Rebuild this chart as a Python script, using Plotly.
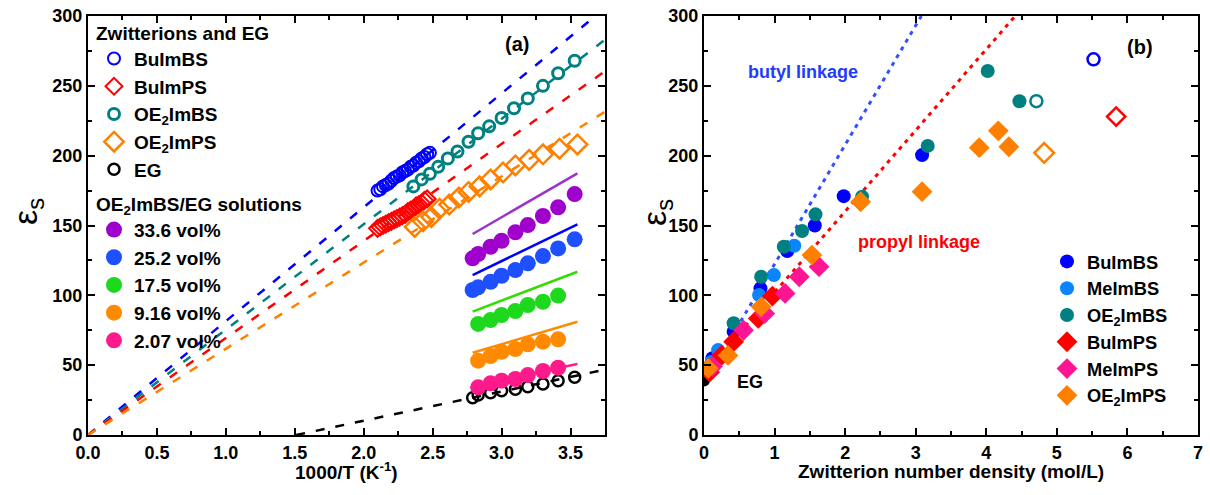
import plotly.graph_objects as go

# ---------------- Panel (a) data ----------------
buimbs_x = [2.10, 2.12, 2.14, 2.16, 2.18, 2.20, 2.22, 2.24, 2.26, 2.28, 2.30, 2.32, 2.34, 2.36, 2.38, 2.40, 2.42, 2.44, 2.46, 2.48]
buimbs_y = [175, 176, 178, 179, 180, 182, 184, 185, 186, 188, 189, 190, 192, 193, 195, 196, 198, 199, 201, 202]
buimps_x = [2.10, 2.12, 2.14, 2.16, 2.18, 2.20, 2.22, 2.24, 2.26, 2.28, 2.30, 2.32, 2.34, 2.36, 2.38, 2.40, 2.42, 2.44, 2.46]
buimps_y = [148, 149, 150, 151, 152, 153, 154, 155, 156, 157, 158, 160, 161, 162, 164, 165, 166, 168, 169]
oe2imbs_x = [2.36, 2.42, 2.48, 2.54, 2.61, 2.68, 2.76, 2.83, 2.91, 3.00, 3.09, 3.19, 3.30, 3.41, 3.53]
oe2imbs_y = [178, 183, 187, 192, 198, 203, 210, 216, 221, 227, 234, 241, 250, 259, 268]
oe2imps_x = [2.37, 2.43, 2.49, 2.55, 2.62, 2.69, 2.76, 2.84, 2.92, 3.01, 3.10, 3.20, 3.30, 3.42, 3.55]
oe2imps_y = [149, 153, 156, 162, 165, 170, 174, 178, 183, 188, 193, 197, 201, 205, 208]
eg_x = [2.79, 2.83, 2.92, 3.00, 3.10, 3.19, 3.30, 3.41, 3.53]
eg_y = [26.7, 28.6, 30.3, 31.7, 32.7, 34.6, 36.5, 38.9, 41.3]

sol_x9 = [2.79, 2.83, 2.92, 3.00, 3.10, 3.19, 3.30, 3.41, 3.53]
sol_x7 = [2.83, 2.92, 3.00, 3.10, 3.19, 3.30, 3.41]
v336_y = [126.5, 129.6, 134.8, 139.1, 145.1, 150.3, 156.8, 163.0, 172.5]
v252_y = [103.8, 105.7, 109.7, 114.0, 118.1, 122.9, 128.1, 133.6, 140.1]
v175_y = [79.5, 82.3, 85.9, 88.8, 93.1, 95.4, 99.8]
v916_y = [53.2, 56.5, 59.6, 61.6, 64.9, 66.8, 68.5]
v207_y = [34.1, 37.0, 38.9, 40.1, 42.9, 45.8, 48.2]

# solid model lines (start/end)
model_x = [2.79, 3.55]
m336_y = [143.9, 187.3]
m252_y = [114.5, 150.8]
m175_y = [88.3, 116.9]
m916_y = [58.9, 81.1]
m207_y = [35.5, 50.8]

# dashed fit lines (start/end)
fit_buimbs_x, fit_buimbs_y = [0, 3.68], [0, 300]
fit_oe2imbs_x, fit_oe2imbs_y = [0, 3.75], [0, 283]
fit_buimps_x, fit_buimps_y = [0, 3.75], [0, 260.5]
fit_oe2imps_x, fit_oe2imps_y = [0, 3.75], [0, 231.5]
fit_eg_x, fit_eg_y = [1.51, 3.75], [0, 46.8]

# ---------------- Panel (b) data ----------------
b_buimbs_x = [0.12, 0.42, 0.80, 1.18, 1.57, 1.98, 3.09]
b_buimbs_y = [55, 74, 105, 131.7, 150, 171, 200.4]
b_meimbs_x = [0.11, 0.20, 0.78, 0.99, 1.28]
b_meimbs_y = [52.5, 60.8, 100.2, 114.5, 135.5]
b_oe2imbs_x = [0.05, 0.42, 0.81, 1.13, 1.39, 1.58, 2.24, 3.17, 4.02, 4.47]
b_oe2imbs_y = [48, 80, 113.3, 134.8, 146, 158, 170.6, 207, 260.6, 239]
b_buimps_x = [0.08, 0.25, 0.42, 0.77, 0.97]
b_buimps_y = [45, 57, 66.8, 83.5, 99.5]
b_meimps_x = [0.12, 0.56, 0.86, 1.15, 1.35, 1.63]
b_meimps_y = [49, 75, 87, 101.4, 113.3, 120.5]
b_oe2imps_x = [0.06, 0.34, 0.81, 1.53, 2.22, 3.09, 3.90, 4.17, 4.32]
b_oe2imps_y = [47.7, 57, 91.8, 128.8, 167, 174.2, 205.7, 217.8, 206.4]
b_eg_x, b_eg_y = [0], [39]
# neat zwitterions (open symbols)
b_open_buimbs = ([5.52], [269])
b_open_oe2imbs = ([4.71], [239])
b_open_buimps = ([5.84], [228])
b_open_oe2imps = ([4.82], [202])
# dotted guide lines
butyl_x, butyl_y = [0, 3.08], [37, 300]
propyl_x, propyl_y = [0, 4.41], [44, 300]

FONT = "Liberation Sans, Arial, sans-serif"
BLUE, RED, TEAL, ORANGE = "#0000FF", "#FF0000", "#008080", "#FF8000"
PURPLE, BLUE2, GREEN, ORANGE2, PINK = "#9F00CC", "#1E50FF", "#1ED81E", "#FF8A00", "#FF1A8C"
LBLUE = "#0A84FF"

fig = go.Figure()

def dline(x, y, color, dash, width=2.5, xa="x", ya="y"):
    fig.add_trace(go.Scatter(x=x, y=y, mode="lines", xaxis=xa, yaxis=ya,
                             line=dict(color=color, width=width, dash=dash),
                             showlegend=False, hoverinfo="skip"))

# dashed fits (panel a)
DASH = "9px,11px"
dline(fit_buimbs_x, fit_buimbs_y, BLUE, DASH)
dline(fit_oe2imbs_x, fit_oe2imbs_y, TEAL, DASH)
dline(fit_buimps_x, fit_buimps_y, RED, DASH)
dline(fit_oe2imps_x, fit_oe2imps_y, ORANGE, DASH)
dline(fit_eg_x, fit_eg_y, "black", DASH)
# solid model lines
for yy, c in [(m336_y, "#9933CC"), (m252_y, BLUE), (m175_y, "#33DD00"), (m916_y, ORANGE2), (m207_y, PINK)]:
    dline(model_x, yy, c, "solid", width=2.5)

def pts(x, y, name, symbol, color, size, lw=0, legend="legend", show=True, xa="x", ya="y"):
    fig.add_trace(go.Scatter(x=x, y=y, mode="markers", name=name, xaxis=xa, yaxis=ya,
                             marker=dict(symbol=symbol, color=color, size=size,
                                         line=dict(width=lw, color=color)),
                             legend=legend, showlegend=show))

pts(buimbs_x, buimbs_y, "BuImBS", "circle-open", BLUE, 12, 2)
pts(buimps_x, buimps_y, "BuImPS", "diamond-open", RED, 13, 2)
pts(oe2imbs_x, oe2imbs_y, "OE<sub>2</sub>ImBS", "circle-open", TEAL, 11, 3)
pts(oe2imps_x, oe2imps_y, "OE<sub>2</sub>ImPS", "diamond-open", ORANGE, 15, 2.5)
pts(eg_x, eg_y, "EG", "circle-open", "black", 11, 2.5)

pts(sol_x9, v336_y, "33.6 vol%", "circle", PURPLE, 16, legend="legend2")
pts(sol_x9, v252_y, "25.2 vol%", "circle", BLUE2, 16, legend="legend2")
pts(sol_x7, v175_y, "17.5 vol%", "circle", GREEN, 16, legend="legend2")
pts(sol_x7, v916_y, "9.16 vol%", "circle", ORANGE2, 16, legend="legend2")
pts(sol_x7, v207_y, "2.07 vol%", "circle", PINK, 16, legend="legend2")

# panel (b)
DOT = "4px,5px"
dline(butyl_x, butyl_y, "#3050FF", DOT, width=3, xa="x2", ya="y2")
dline(propyl_x, propyl_y, RED, DOT, width=3, xa="x2", ya="y2")

pts(b_eg_x, b_eg_y, "EG", "circle", "black", 12, legend="legend3", show=False, xa="x2", ya="y2")
pts(b_buimbs_x, b_buimbs_y, "BuImBS", "circle", BLUE, 14, legend="legend3", xa="x2", ya="y2")
pts(b_meimbs_x, b_meimbs_y, "MeImBS", "circle", LBLUE, 14, legend="legend3", xa="x2", ya="y2")
pts(b_oe2imbs_x, b_oe2imbs_y, "OE<sub>2</sub>ImBS", "circle", TEAL, 14, legend="legend3", xa="x2", ya="y2")
pts(b_buimps_x, b_buimps_y, "BuImPS", "diamond", RED, 16, legend="legend3", xa="x2", ya="y2")
pts(b_meimps_x, b_meimps_y, "MeImPS", "diamond", "#FF1493", 16, legend="legend3", xa="x2", ya="y2")
pts(b_oe2imps_x, b_oe2imps_y, "OE<sub>2</sub>ImPS", "diamond", ORANGE, 16, legend="legend3", xa="x2", ya="y2")

pts(*b_open_buimbs, "BuImBS neat", "circle-open", BLUE, 12, 2.5, legend="legend3", show=False, xa="x2", ya="y2")
pts(*b_open_oe2imbs, "OE2ImBS neat", "circle-open", TEAL, 12, 2.5, legend="legend3", show=False, xa="x2", ya="y2")
pts(*b_open_buimps, "BuImPS neat", "diamond-open", RED, 14, 2.5, legend="legend3", show=False, xa="x2", ya="y2")
pts(*b_open_oe2imps, "OE2ImPS neat", "diamond-open", ORANGE, 15, 2.5, legend="legend3", show=False, xa="x2", ya="y2")

W, H = 1210, 495
def px(v): return v / W
def py(v): return 1 - v / H

tickfont = dict(family=FONT, size=18, color="black", weight="bold")
axis_common = dict(showline=True, linecolor="black", linewidth=2, mirror="allticks",
                   ticks="inside", ticklen=7, tickwidth=2, tickcolor="black",
                   showgrid=False, zeroline=False, tickfont=tickfont, automargin=False,
                   minor=dict(ticks="inside", ticklen=4, tickwidth=1.5, tickcolor="black", showgrid=False))

leg_font = dict(family=FONT, size=19, color="black", weight="bold")
leg3_font = dict(family=FONT, size=18.3, color="black", weight="bold")
fig.update_layout(
    width=W, height=H, margin=dict(l=0, r=0, t=0, b=0, autoexpand=False),
    paper_bgcolor="white", plot_bgcolor="white",
    xaxis=dict(domain=[px(88), px(605)], range=[0, 3.75], dtick=0.5, tickformat=".1f",
               anchor="y", **{**axis_common, "minor": dict(axis_common["minor"], dtick=0.25)}),
    yaxis=dict(domain=[py(435), py(16)], range=[0, 300], dtick=50, anchor="x",
               **{**axis_common, "minor": dict(axis_common["minor"], dtick=25)}),
    xaxis2=dict(domain=[px(704), px(1198)], range=[0, 7], dtick=1, anchor="y2",
                **{**axis_common, "minor": dict(axis_common["minor"], dtick=0.5)}),
    yaxis2=dict(domain=[py(435), py(16)], range=[0, 300], dtick=50, anchor="x2",
                **{**axis_common, "minor": dict(axis_common["minor"], dtick=25)}),
    legend=dict(x=px(94), y=py(15), xanchor="left", yanchor="top", bgcolor="rgba(0,0,0,0)",
                font=leg_font, title=dict(text="Zwitterions and EG", font=leg_font),
                tracegroupgap=0),
    legend2=dict(x=px(94), y=py(186), xanchor="left", yanchor="top", bgcolor="rgba(0,0,0,0)",
                 font=leg_font, title=dict(text="OE<sub>2</sub>ImBS/EG solutions", font=leg_font),
                 tracegroupgap=0),
    legend3=dict(x=px(1047), y=py(243), xanchor="left", yanchor="top", bgcolor="rgba(0,0,0,0)",
                 font=leg3_font, tracegroupgap=0),
    showlegend=True,
)

ann_font = dict(family=FONT, size=19, color="black", weight="bold")
anns = [
    dict(x=px(346), y=py(471), text="1000/T (K<sup>-1</sup>)", font=ann_font),
    dict(x=px(951), y=py(471), text="Zwitterion number density (mol/L)", font=ann_font),
    dict(x=px(27), y=py(212), text="ε<sub>s</sub>", textangle=-90,
         font=dict(family=FONT, size=34, color="black")),
    dict(x=px(656), y=py(212), text="ε<sub>s</sub>", textangle=-90,
         font=dict(family=FONT, size=34, color="black")),
]
for a in anns:
    fig.add_annotation(xref="paper", yref="paper", showarrow=False,
                       xanchor="center", yanchor="middle", **a)

fig.add_annotation(x=3.11, y=280, xref="x", yref="y", text="(a)", showarrow=False,
                   font=dict(family=FONT, size=20, color="black", weight="bold"))
fig.add_annotation(x=6.18, y=278, xref="x2", yref="y2", text="(b)", showarrow=False,
                   font=dict(family=FONT, size=20, color="black", weight="bold"))
fig.add_annotation(x=1.40, y=260, xref="x2", yref="y2", text="butyl linkage", showarrow=False,
                   font=dict(family=FONT, size=18, color="#1E3CFF", weight="bold"))
fig.add_annotation(x=3.05, y=138, xref="x2", yref="y2", text="propyl linkage", showarrow=False,
                   font=dict(family=FONT, size=18, color=RED, weight="bold"))
fig.add_annotation(x=0.65, y=38, xref="x2", yref="y2", text="EG", showarrow=False,
                   font=dict(family=FONT, size=18, color="black", weight="bold"))

fig.write_html("out.html")
